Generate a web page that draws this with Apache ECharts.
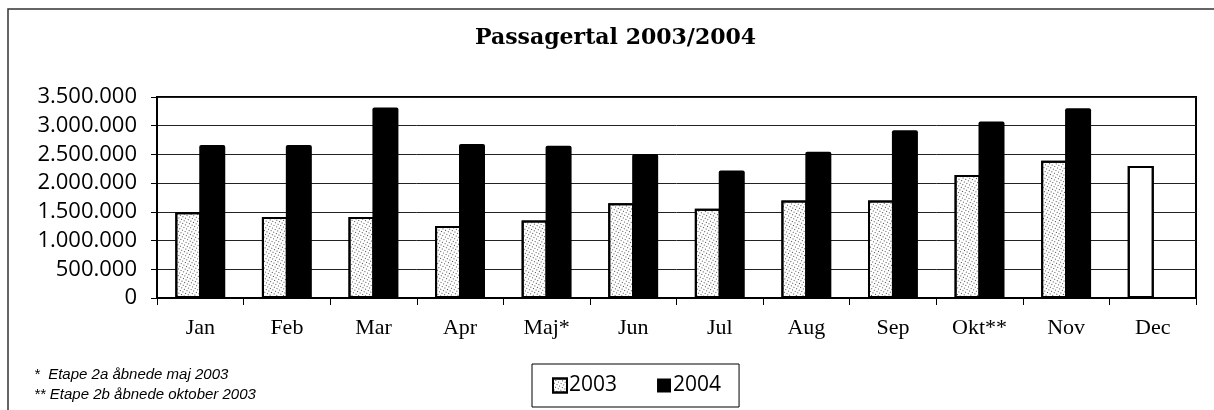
<!DOCTYPE html>
<html style="width:100%;height:100%">
<head>
    <meta charset="UTF-8">
    <title>Passagertal</title>
    <script type="text/javascript" src="https://cdn.jsdelivr.net/npm/echarts@6/dist/echarts.min.js"></script>
</head>
<body style="width:100%;height:100%;margin:0;overflow:hidden;background:#fff">
    <div id="chart" style="width:1214px;height:410px"></div>

    <script type="text/javascript">
        var months = ['Jan', 'Feb', 'Mar', 'Apr', 'Maj*', 'Jun', 'Jul', 'Aug', 'Sep', 'Okt**', 'Nov', 'Dec'];
        var pax2003 = [1495000, 1410000, 1410000, 1253000, 1351000, 1651000, 1554000, 1698000, 1698000, 2143000, 2391000, 2299000];
        var pax2004 = [2663000, 2663000, 3315000, 2680000, 2651000, 2507000, 2218000, 2547000, 2923000, 3072000, 3304000];
        var footnotes = ['*  Etape 2a åbnede maj 2003', '** Etape 2b åbnede oktober 2003'];

        var myChart = echarts.init(document.getElementById('chart'));

        function dots(n) {
            return n.toString().replace(/\B(?=(\d{3})+(?!\d))/g, '.');
        }

        // scanned-looking stipple for the 2003 bars
        var stipple = {
            symbol: 'rect',
            symbolSize: 1,
            dashArrayX: [1, 2],
            dashArrayY: [1, 2],
            rotation: 0.5,
            color: 'rgba(0,0,0,0.7)'
        };

        option = {
            animation: false,
            title: {
                text: 'Passagertal 2003/2004',
                left: 470,
                top: 22,
                textStyle: {
                    fontFamily: 'DejaVu Serif',
                    fontWeight: 'bold',
                    fontSize: 22,
                    color: '#000'
                }
            },
            legend: {
                left: 532,
                top: 364,
                padding: [11, 18, 11, 20],
                icon: 'rect',
                itemWidth: 14,
                itemHeight: 14,
                itemGap: 40,
                borderColor: '#000',
                borderWidth: 1,
                borderRadius: 0,
                textStyle: {
                    fontFamily: 'Open Sans',
                    fontSize: 21,
                    color: '#000',
                    padding: [0, 0, 0, -3]
                },
                data: ['2003', '2004']
            },
            grid: {
                left: 157,
                right: 18,
                top: 97,
                bottom: 112,
                show: true,
                borderColor: '#000',
                borderWidth: 2
            },
            xAxis: {
                type: 'category',
                data: months,
                axisLine: { lineStyle: { color: '#000', width: 2 } },
                axisTick: { show: true, length: 7, lineStyle: { color: '#000' } },
                axisLabel: {
                    margin: 19,
                    fontFamily: 'Liberation Serif',
                    fontSize: 22,
                    color: '#000'
                }
            },
            yAxis: {
                type: 'value',
                min: 0,
                max: 3500000,
                interval: 500000,
                axisLine: { show: true, lineStyle: { color: '#000', width: 2 } },
                axisTick: { show: true, length: 6, lineStyle: { color: '#000' } },
                splitLine: { lineStyle: { color: '#222', width: 1 } },
                axisLabel: {
                    margin: 20,
                    fontFamily: 'Open Sans',
                    fontSize: 22,
                    color: '#000',
                    formatter: dots
                }
            },
            series: [{
                name: '2003',
                type: 'bar',
                barWidth: 26,
                barGap: '-8%',
                itemStyle: {
                    color: '#fff',
                    borderColor: '#000',
                    borderWidth: 2,
                    decal: stipple
                },
                data: pax2003.map(function (v, i) {
                    if (i === pax2003.length - 1) {
                        return { value: v, itemStyle: { decal: { symbol: 'none' } } };
                    }
                    return v;
                })
            }, {
                name: '2004',
                type: 'bar',
                barWidth: 26,
                itemStyle: {
                    color: '#000',
                    borderRadius: [2, 2, 0, 0]
                },
                data: pax2004
            }],
            graphic: [{
                type: 'polyline',
                shape: { points: [[8, 410], [8, 9], [1214, 9]] },
                style: { stroke: '#333', lineWidth: 1.5, fill: null }
            }, {
                type: 'text',
                left: 34,
                top: 365,
                style: {
                    text: footnotes.join('\n'),
                    font: 'italic 15px "Liberation Sans"',
                    lineHeight: 20,
                    fill: '#000'
                }
            }]
        };

        myChart.setOption(option);
    </script>
</body>
</html>
